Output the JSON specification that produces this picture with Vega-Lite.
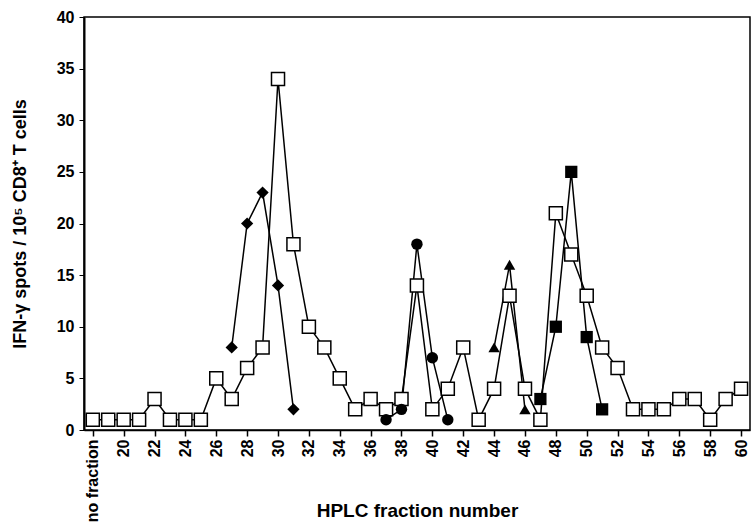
{
  "$schema": "https://vega.github.io/schema/vega-lite/v6.json",
  "autosize": "none",
  "width": 666,
  "height": 413,
  "padding": {"left": 84, "top": 17, "right": 1, "bottom": 97},
  "background": "white",
  "config": {
    "view": {"stroke": "black", "strokeWidth": 1.5},
    "font": "Liberation Sans"
  },
  "data": {
    "values": [
      {"s": "open", "f": 18, "v": 1}, {"s": "open", "f": 19, "v": 1}, {"s": "open", "f": 20, "v": 1},
      {"s": "open", "f": 21, "v": 1}, {"s": "open", "f": 22, "v": 3}, {"s": "open", "f": 23, "v": 1},
      {"s": "open", "f": 24, "v": 1}, {"s": "open", "f": 25, "v": 1}, {"s": "open", "f": 26, "v": 5},
      {"s": "open", "f": 27, "v": 3}, {"s": "open", "f": 28, "v": 6}, {"s": "open", "f": 29, "v": 8},
      {"s": "open", "f": 30, "v": 34}, {"s": "open", "f": 31, "v": 18}, {"s": "open", "f": 32, "v": 10},
      {"s": "open", "f": 33, "v": 8}, {"s": "open", "f": 34, "v": 5}, {"s": "open", "f": 35, "v": 2},
      {"s": "open", "f": 36, "v": 3}, {"s": "open", "f": 37, "v": 2}, {"s": "open", "f": 38, "v": 3},
      {"s": "open", "f": 39, "v": 14}, {"s": "open", "f": 40, "v": 2}, {"s": "open", "f": 41, "v": 4},
      {"s": "open", "f": 42, "v": 8}, {"s": "open", "f": 43, "v": 1}, {"s": "open", "f": 44, "v": 4},
      {"s": "open", "f": 45, "v": 13}, {"s": "open", "f": 46, "v": 4}, {"s": "open", "f": 47, "v": 1},
      {"s": "open", "f": 48, "v": 21}, {"s": "open", "f": 49, "v": 17}, {"s": "open", "f": 50, "v": 13},
      {"s": "open", "f": 51, "v": 8}, {"s": "open", "f": 52, "v": 6}, {"s": "open", "f": 53, "v": 2},
      {"s": "open", "f": 54, "v": 2}, {"s": "open", "f": 55, "v": 2}, {"s": "open", "f": 56, "v": 3},
      {"s": "open", "f": 57, "v": 3}, {"s": "open", "f": 58, "v": 1}, {"s": "open", "f": 59, "v": 3},
      {"s": "open", "f": 60, "v": 4},
      {"s": "diamond", "f": 27, "v": 8}, {"s": "diamond", "f": 28, "v": 20}, {"s": "diamond", "f": 29, "v": 23},
      {"s": "diamond", "f": 30, "v": 14}, {"s": "diamond", "f": 31, "v": 2},
      {"s": "circle", "f": 37, "v": 1}, {"s": "circle", "f": 38, "v": 2}, {"s": "circle", "f": 39, "v": 18},
      {"s": "circle", "f": 40, "v": 7}, {"s": "circle", "f": 41, "v": 1},
      {"s": "triangle", "f": 44, "v": 8}, {"s": "triangle", "f": 45, "v": 16}, {"s": "triangle", "f": 46, "v": 2},
      {"s": "square", "f": 47, "v": 3}, {"s": "square", "f": 48, "v": 10}, {"s": "square", "f": 49, "v": 25},
      {"s": "square", "f": 50, "v": 9}, {"s": "square", "f": 51, "v": 2}
    ]
  },
  "encoding": {
    "x": {
      "field": "f", "type": "quantitative",
      "scale": {"domain": [17.43, 60.58], "nice": false, "zero": false},
      "axis": {
        "title": "HPLC fraction number",
        "values": [18, 20, 22, 24, 26, 28, 30, 32, 34, 36, 38, 40, 42, 44, 46, 48, 50, 52, 54, 56, 58, 60],
        "labelExpr": "datum.value == 18 ? 'no fraction' : datum.label",
        "labelAngle": -90,
        "labelFont": "Liberation Sans", "labelFontSize": 16, "labelFontWeight": "bold", "labelColor": "black",
        "labelPadding": 3, "labelOverlap": false, "labelBound": false,
        "tickColor": "black", "tickSize": 6, "tickWidth": 1.5,
        "domainColor": "black", "domainWidth": 1.5,
        "grid": false,
        "titleFont": "Liberation Sans", "titleFontSize": 19, "titleFontWeight": "bold", "titleColor": "black",
        "titleBaseline": "alphabetic", "titleY": 86, "titleX": 333
      }
    },
    "y": {
      "field": "v", "type": "quantitative",
      "scale": {"domain": [0, 40], "nice": false},
      "axis": {
        "title": "IFN-γ spots / 10⁵ CD8⁺ T cells",
        "values": [0, 5, 10, 15, 20, 25, 30, 35, 40],
        "labelFont": "Liberation Sans", "labelFontSize": 16, "labelFontWeight": "bold", "labelColor": "black",
        "labelPadding": 5, "labelOverlap": false,
        "tickColor": "black", "tickSize": 5, "tickWidth": 1,
        "domainColor": "black", "domainWidth": 2,
        "grid": false,
        "titleFont": "Liberation Sans", "titleFontSize": 18, "titleFontWeight": "bold", "titleColor": "black",
        "titlePadding": 27
      }
    }
  },
  "layer": [
    {
      "mark": {"type": "line", "color": "black", "strokeWidth": 1.5},
      "encoding": {"detail": {"field": "s"}}
    },
    {
      "transform": [{"filter": "datum.s == 'open'"}],
      "mark": {"type": "point", "shape": "square", "filled": true, "fill": "white", "stroke": "black", "strokeWidth": 1.5, "size": 170, "opacity": 1}
    },
    {
      "transform": [{"filter": "datum.s == 'diamond'"}],
      "mark": {"type": "point", "shape": "diamond", "filled": true, "color": "black", "size": 150, "opacity": 1}
    },
    {
      "transform": [{"filter": "datum.s == 'circle'"}],
      "mark": {"type": "point", "shape": "circle", "filled": true, "color": "black", "size": 130, "opacity": 1}
    },
    {
      "transform": [{"filter": "datum.s == 'triangle'"}],
      "mark": {"type": "point", "shape": "triangle-up", "filled": true, "color": "black", "size": 130, "opacity": 1}
    },
    {
      "transform": [{"filter": "datum.s == 'square'"}],
      "mark": {"type": "point", "shape": "square", "filled": true, "color": "black", "size": 150, "opacity": 1}
    }
  ]
}
